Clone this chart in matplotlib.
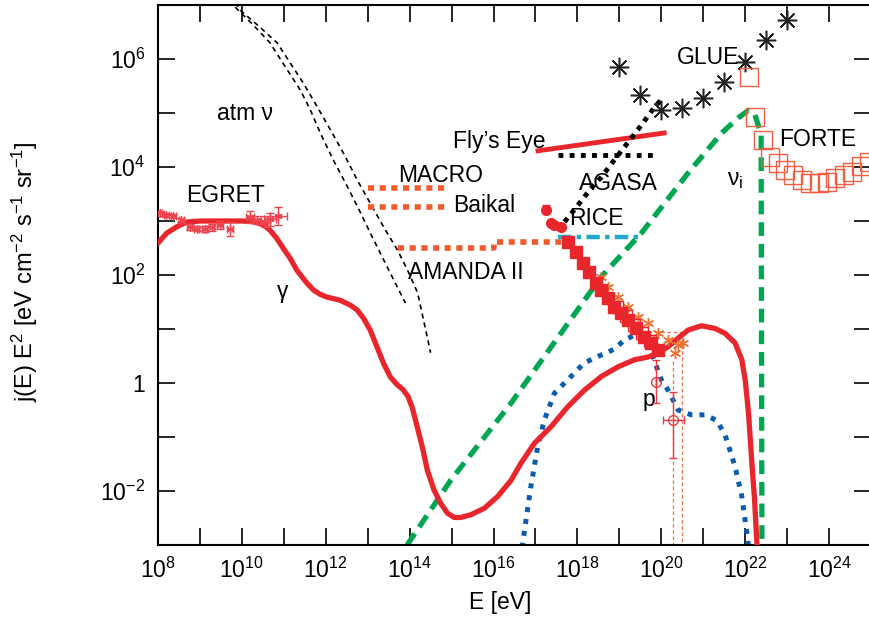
import numpy as np
import matplotlib
matplotlib.use('Agg')
import matplotlib.pyplot as plt
from matplotlib.ticker import FixedLocator, FixedFormatter, NullLocator

plt.rcParams['font.family'] = ['Liberation Sans', 'DejaVu Sans']
plt.rcParams['mathtext.default'] = 'regular'

# all values are log10(E [eV]) and log10(flux)
gam_le = [8.0, 8.2, 8.44, 8.68, 9.0, 9.5, 10.0, 10.27, 10.51, 10.67, 10.83, 10.99, 11.15, 11.31,
          11.55, 11.71, 11.87, 12.03, 12.2, 12.35, 12.59, 12.75, 12.90, 13.06, 13.22, 13.38,
          13.54, 13.70, 13.84, 13.96, 14.06, 14.18, 14.30, 14.42, 14.58, 14.74, 14.90, 15.06,
          15.22, 15.46, 15.78, 16.10, 16.42, 16.65, 16.97, 17.37, 17.77, 18.17, 18.57, 18.97,
          19.36, 19.68, 19.92, 20.16, 20.40, 20.64, 20.96, 21.28, 21.52, 21.76, 21.92, 22.0,
          22.08, 22.16, 22.22, 22.28, 22.30]
gam_lf = [2.59, 2.77, 2.89, 2.98, 3.0, 3.0, 3.0, 2.99, 2.93, 2.83, 2.68, 2.49, 2.31, 2.09,
          1.85, 1.72, 1.64, 1.59, 1.56, 1.53, 1.44, 1.35, 1.20, 0.98, 0.67, 0.36,
          0.11, -0.03, -0.12, -0.25, -0.45, -0.81, -1.18, -1.61, -1.98, -2.23, -2.41, -2.49,
          -2.49, -2.44, -2.32, -2.10, -1.80, -1.49, -1.12, -0.81, -0.44, -0.13, 0.12, 0.30,
          0.43, 0.48, 0.55, 0.67, 0.83, 0.98, 1.06, 1.01, 0.92, 0.74, 0.43, 0.06,
          -0.56, -1.49, -2.11, -2.97, -3.2]

egret_le = [8.04, 8.20, 8.36, 8.56, 8.76, 8.92, 9.12, 9.28, 9.48, 9.72, 10.19, 10.35, 10.55, 10.67, 10.87]
egret_lf = [3.14, 3.11, 3.09, 3.02, 2.89, 2.86, 2.85, 2.88, 2.93, 2.85, 3.08, 3.02, 2.99, 3.03, 3.09]
egret_dy = [0.04, 0.04, 0.04, 0.04, 0.05, 0.05, 0.06, 0.06, 0.07, 0.13, 0.11, 0.08, 0.1, 0.12, 0.17]
egret_dx = [0.06, 0.06, 0.06, 0.06, 0.06, 0.06, 0.06, 0.06, 0.08, 0.08, 0.1, 0.1, 0.12, 0.14, 0.2]

atm1_le = [9.72, 9.79, 10.27, 10.67, 11.08, 11.39, 11.63, 11.87, 12.18, 12.52, 12.83, 13.06, 13.38, 13.62, 13.90]
atm1_lf = [7.1, 7.0, 6.63, 6.30, 5.80, 5.43, 5.06, 4.63, 4.13, 3.63, 3.15, 2.78, 2.28, 1.91, 1.48]
atm2_le = [9.85, 9.95, 10.43, 10.84, 11.15, 11.46, 11.80, 12.11, 12.42, 12.75, 13.06, 13.38, 13.71, 13.95, 14.19, 14.33, 14.50]
atm2_lf = [7.05, 6.91, 6.59, 6.30, 5.93, 5.56, 5.11, 4.69, 4.26, 3.76, 3.33, 2.89, 2.46, 2.09, 1.67, 1.17, 0.56]

macro_le, macro_lf = [13.01, 14.9], [3.62, 3.62]
baikal_le, baikal_lf = [13.01, 14.9], [3.26, 3.26]
amanda_le = [13.73, 16.0, 16.0, 17.6]
amanda_lf = [2.50, 2.50, 2.61, 2.61]
flyseye_le, flyseye_lf = [17.06, 20.07], [4.30, 4.63]
agasa_le, agasa_lf = [17.54, 19.82], [4.22, 4.22]
rice_le, rice_lf = [17.53, 19.44], [2.70, 2.70]
diag_le = [17.53, 17.92, 18.33, 18.57, 18.88, 19.12, 19.29, 19.53, 19.84, 20.04]
diag_lf = [2.83, 3.20, 3.61, 3.81, 4.13, 4.37, 4.54, 4.78, 5.11, 5.28]

nu_le = [13.94, 14.98, 16.42, 18.57, 19.53, 20.64, 21.44, 21.85, 22.08, 22.22, 22.38, 22.40]
nu_lf = [-3.0, -1.80, -0.37, 1.97, 2.78, 3.89, 4.63, 4.92, 5.05, 5.0, 4.6, -3.2]

p_le = [16.68, 16.80, 16.89, 17.05, 17.21, 17.45, 17.77, 18.16, 18.57, 18.89, 19.12, 19.35,
        19.52, 19.68, 19.84, 20.0, 20.16, 20.40, 20.72, 21.03, 21.32, 21.52, 21.76, 21.92, 22.04, 22.08]
p_lf = [-3.05, -2.4, -1.92, -1.19, -0.69, -0.19, 0.06, 0.37, 0.52, 0.63, 0.80, 0.88,
        0.89, 0.75, 0.40, 0.06, -0.13, -0.50, -0.59, -0.59, -0.69, -0.96, -1.55, -2.1, -2.78, -3.05]

cr_le = [17.25, 17.37, 17.44, 17.61, 17.77, 17.97, 18.13, 18.28, 18.45, 18.57, 18.73, 18.88,
         19.04, 19.21, 19.40, 19.59, 19.76, 19.92]
cr_lf = [3.20, 2.96, 2.93, 2.89, 2.62, 2.43, 2.22, 2.06, 1.85, 1.72, 1.57, 1.41,
         1.30, 1.17, 1.02, 0.85, 0.74, 0.61]
crb_le = [18.95, 19.15, 19.35, 19.55, 19.72]
crb_lf = [1.40, 1.25, 1.08, 0.92, 0.78]
cro_le = [18.57, 18.73, 18.97, 19.21, 19.45, 19.68, 19.92, 20.16, 20.33, 20.40, 20.52]
cro_lf = [1.96, 1.78, 1.59, 1.41, 1.22, 1.11, 0.93, 0.80, 0.56, 0.70, 0.74]

pp_le = [19.88, 20.28]
pp_lf = [0.02, -0.69]
pp_dlo = [0.39, 0.70]
pp_dhi = [0.41, 0.53]
pp_dx = [0.0, 0.25]

glue_le = [19.0, 19.5, 20.0, 20.5, 21.0, 21.5, 22.0, 22.5, 23.0]
glue_lf = [5.86, 5.33, 5.06, 5.09, 5.28, 5.58, 5.95, 6.35, 6.72]

forte_le = [22.08, 22.23, 22.43, 22.59, 22.79, 22.95, 23.15, 23.35, 23.55, 23.75, 23.95, 24.15,
            24.35, 24.55, 24.75, 24.95]
forte_lf = [5.67, 4.93, 4.50, 4.19, 4.07, 3.94, 3.85, 3.76, 3.70, 3.70, 3.73, 3.79,
            3.85, 3.91, 4.01, 4.10]


def p10(a):
    return np.power(10.0, np.asarray(a, dtype=float))


RED = '#e8262b'
ORANGE = '#f15a2b'
GREEN = '#00a651'
BLUE = '#0b5cad'
CYAN = '#22a8cc'

fig = plt.figure(figsize=(8.7, 6.19), dpi=100)
ax = fig.add_axes([158 / 870, 74 / 619, 713 / 870, 540 / 619])
ax.set_xscale('log')
ax.set_yscale('log')

# atmospheric neutrinos
ax.plot(p10(atm1_le), p10(atm1_lf), color='black', lw=1.2, dashes=(3, 2.5))
ax.plot(p10(atm2_le), p10(atm2_lf), color='black', lw=1.2, dashes=(3, 2.5))

# experiment limits
for le, lf in [(macro_le, macro_lf), (baikal_le, baikal_lf), (amanda_le, amanda_lf)]:
    ax.plot(p10(le), p10(lf), color=ORANGE, lw=4, dashes=(1.1, 1.0), dash_capstyle='butt')
ax.plot(p10(flyseye_le), p10(flyseye_lf), color=RED, lw=3.5)
ax.plot(p10(agasa_le), p10(agasa_lf), color='black', lw=3.5, dashes=(1.0, 1.3), dash_capstyle='butt')
ax.plot(p10(diag_le), p10(diag_lf), color='black', lw=3.5, dashes=(1.0, 1.2), dash_capstyle='butt')
ax.plot(p10(rice_le), p10(rice_lf), color=CYAN, lw=3.2, dashes=(3, 1.2, 1, 1.2), dash_capstyle='butt')

# model curves
ax.plot(p10(nu_le), p10(nu_lf), color=GREEN, lw=3.8, dashes=(2.6, 1.5), dash_capstyle='butt')
ax.plot(p10(p_le), p10(p_lf), color=BLUE, lw=3.6, dashes=(1.0, 1.4), dash_capstyle='butt')
ax.plot(p10(gam_le), p10(gam_lf), color=RED, lw=3.8, solid_joinstyle='round', solid_capstyle='round', zorder=4)

# EGRET data
ey = p10(egret_lf)
ax.errorbar(p10(egret_le), ey,
            yerr=[ey - p10(np.array(egret_lf) - egret_dy), p10(np.array(egret_lf) + egret_dy) - ey],
            xerr=[p10(egret_le) - p10(np.array(egret_le) - egret_dx), p10(np.array(egret_le) + egret_dx) - p10(egret_le)],
            fmt='none', ecolor='#ee4450', elinewidth=1.0, capsize=3, zorder=5)
ax.plot(p10(egret_le), ey, ls='none', marker=(6, 2, 0), ms=6, mec='#ee4450', mew=1.0, zorder=5)

# upper limit boxes near 1e20
ax.plot(p10([20.29, 20.29]), p10([0.41, -3.2]), color='#f07050', lw=0.9, dashes=(3, 2))
ax.plot(p10([20.50, 20.50]), p10([0.95, -3.2]), color='#f07050', lw=0.9, dashes=(3, 2))
ax.plot(p10([19.69, 20.50]), p10([0.95, 0.95]), color='#f07050', lw=0.9, dashes=(3, 2))

# cosmic ray data
ax.errorbar(p10(cro_le), p10(cro_lf), yerr=0.12 * p10(cro_lf), fmt='none', ecolor='#f07030', elinewidth=0.8, zorder=5)
ax.plot(p10(cro_le), p10(cro_lf), ls='none', marker=(6, 2, 0), ms=8, mec='#f07030', mew=1.0, zorder=5)
ax.plot(p10(cr_le[:4]), p10(cr_lf[:4]), ls='none', marker='o', ms=7, color=RED, zorder=6)
ax.plot(p10(cr_le[4:]), p10(cr_lf[4:]), ls='none', marker='s', ms=8, color=RED, zorder=6)
ax.plot(p10(crb_le), p10(crb_lf), ls='none', marker='s', ms=9, mfc='none', mec=RED, mew=1.0, zorder=6)
ax.errorbar(p10(cr_le[0]), p10(cr_lf[0]), yerr=[[0.0], [p10(cr_lf[0] + 0.1) - p10(cr_lf[0])]],
            fmt='none', ecolor=RED, elinewidth=1.0, capsize=3, zorder=6)

pp_y = p10(pp_lf)
ax.errorbar(p10(pp_le), pp_y,
            yerr=[pp_y - p10(np.array(pp_lf) - pp_dlo), p10(np.array(pp_lf) + pp_dhi) - pp_y],
            xerr=[p10(pp_le) - p10(np.array(pp_le) - pp_dx), p10(np.array(pp_le) + pp_dx) - p10(pp_le)],
            fmt='o', ms=7, mfc='none', mec='#e83a40', ecolor='#e83a40', elinewidth=1.0, capsize=3, zorder=6)

# GLUE and FORTE
ax.plot(p10(glue_le), p10(glue_lf), ls='none', marker=(8, 2, 0), ms=14, mec='#222222', mew=1.1, zorder=6)
ax.plot(p10(glue_le), p10(glue_lf), ls='none', marker='o', ms=2.5, color='#222222', zorder=6)
ax.plot(p10(forte_le), p10(forte_lf), ls='none', marker='s', ms=13.5, mfc='none', mec='#f06040', mew=1.0, zorder=6)

# labels
fs = 16.5
ax.text(p10(10.07), p10(5.0), 'atm ν', fontsize=fs, ha='center', va='center')
ax.text(p10(9.6), p10(3.48), 'EGRET', fontsize=fs, ha='center', va='center')
ax.text(p10(10.98), p10(1.69), 'γ', fontsize=fs, ha='center', va='center')
ax.text(p10(13.73), p10(3.85), 'MACRO', fontsize=fs, ha='left', va='center')
ax.text(p10(15.03), p10(3.28), 'Baikal', fontsize=fs, ha='left', va='center')
ax.text(p10(13.97), p10(2.04), 'AMANDA II', fontsize=fs, ha='left', va='center')
ax.text(p10(15.03), p10(4.48), 'Fly\u2019s Eye', fontsize=fs, ha='left', va='center')
ax.text(p10(18.04), p10(3.70), 'AGASA', fontsize=fs, ha='left', va='center')
ax.text(p10(17.80), p10(3.04), 'RICE', fontsize=fs, ha='left', va='center')
ax.text(p10(20.36), p10(6.02), 'GLUE', fontsize=fs, ha='left', va='center')
ax.text(p10(22.80), p10(4.5), 'FORTE', fontsize=fs, ha='left', va='center')
ax.text(p10(21.56), p10(3.76), 'ν$_{i}$', fontsize=fs, ha='left', va='center')
ax.text(p10(19.56), p10(-0.31), 'p', fontsize=fs, ha='left', va='center')

ax.set_xlim(1e8, 1e25)
ax.set_ylim(1e-3, 1e7)

xdec = list(range(8, 26))
ax.xaxis.set_major_locator(FixedLocator([10.0 ** k for k in xdec]))
ax.xaxis.set_major_formatter(FixedFormatter(['$10^{%d}$' % k if k % 2 == 0 else '' for k in xdec]))
ax.xaxis.set_minor_locator(NullLocator())
ydec = list(range(-3, 8))
ylabels = []
for k in ydec:
    if k == 0:
        ylabels.append('1')
    elif k % 2 == 0:
        ylabels.append('$10^{%d}$' % k)
    else:
        ylabels.append('')
ax.yaxis.set_major_locator(FixedLocator([10.0 ** k for k in ydec]))
ax.yaxis.set_major_formatter(FixedFormatter(ylabels))
ax.yaxis.set_minor_locator(NullLocator())

ax.tick_params(which='major', direction='in', length=12, width=1.2, top=True, right=True,
               labelsize=16.5)
ax.tick_params(axis='x', pad=9)
ax.tick_params(axis='y', pad=9)
for s in ax.spines.values():
    s.set_linewidth(1.5)

fig.text(500 / 870, 1 - 603 / 619, 'E [eV]', fontsize=16.5, ha='center', va='center')
fig.text(25 / 870, 1 - 272 / 619, 'j(E) E$^{2}$ [eV cm$^{-2}$ s$^{-1}$ sr$^{-1}$]', fontsize=17,
         ha='center', va='center', rotation=90)

fig.savefig('out.png', dpi=100)
